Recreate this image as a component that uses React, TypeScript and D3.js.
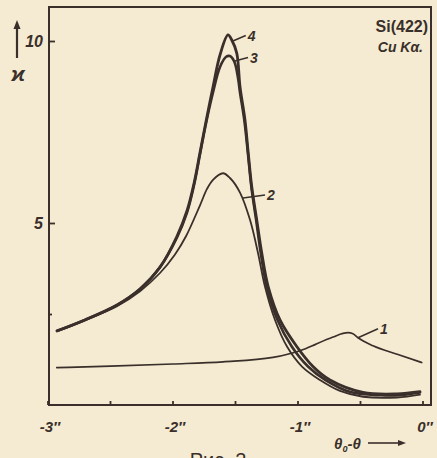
import * as d3 from 'd3';

// κ vs (θ0 - θ), arcsec — curves 1..4
const xTicks = [-3, -2.5, -2, -1.5, -1, -0.5, 0];
const xTickLabels = ['-3″', '', '-2″', '', '-1″', '', '0″'];
const yTicks = [2.5, 5, 10];
const yTickLabels = ['', '5', '10'];

const curve1X = [-2.93, -2.5, -2.0, -1.6, -1.2, -1.06, -0.94, -0.86, -0.72, -0.64, -0.6, -0.56, -0.52, -0.4, -0.2, -0.01];
const curve1Y = [1.04, 1.08, 1.14, 1.2, 1.32, 1.43, 1.56, 1.68, 1.88, 1.98, 2.0, 1.97, 1.86, 1.64, 1.4, 1.18];

const curve2X = [-2.928, -2.72, -2.448, -2.264, -2.104, -1.984, -1.896, -1.784, -1.728, -1.68, -1.6, -1.544, -1.464, -1.384, -1.32, -1.264, -1.184, -1.088, -0.968, -0.824, -0.664, -0.48, -0.208, -0.024];
const curve2Y = [2.04, 2.32, 2.73, 3.14, 3.64, 4.15, 4.65, 5.5, 5.95, 6.2, 6.38, 6.25, 5.85, 5.1, 4.19, 3.26, 2.35, 1.62, 1.07, 0.7, 0.4, 0.24, 0.22, 0.3];

const curve3X = [-2.928, -2.72, -2.448, -2.264, -2.104, -1.968, -1.888, -1.832, -1.784, -1.736, -1.68, -1.624, -1.575, -1.545, -1.51, -1.48, -1.464, -1.428, -1.4, -1.373, -1.335, -1.298, -1.25, -1.164, -1.05, -0.92, -0.78, -0.58, -0.34, -0.2, -0.024];
const curve3Y = [2.05, 2.33, 2.76, 3.2, 3.8, 4.62, 5.3, 6.05, 6.9, 7.75, 8.6, 9.3, 9.58, 9.6, 9.45, 9.0, 8.6, 7.8, 6.9, 6.0, 5.1, 4.19, 3.26, 2.35, 1.62, 1.07, 0.7, 0.37, 0.28, 0.28, 0.36];

const curve4X = [-2.928, -2.72, -2.448, -2.264, -2.104, -1.968, -1.888, -1.832, -1.784, -1.736, -1.68, -1.624, -1.56, -1.53, -1.49, -1.464, -1.424, -1.398, -1.37, -1.33, -1.29, -1.238, -1.144, -1.01, -0.88, -0.744, -0.48, -0.208, -0.024];
const curve4Y = [2.05, 2.33, 2.76, 3.2, 3.8, 4.65, 5.35, 6.1, 6.95, 7.8, 8.75, 9.63, 10.18, 10.04, 9.68, 8.76, 7.84, 6.94, 6.01, 5.1, 4.19, 3.26, 2.35, 1.62, 1.07, 0.7, 0.36, 0.32, 0.38];

const ink = '#3a2f2a';
const paper = '#f4ebd2';
const hand = '"Liberation Sans", Arial, sans-serif';

export default function App() {
  const width = 437;
  const height = 458;
  const left = 49;
  const right = 431;
  const top = 7;
  const bottom = 405;

  const x = d3.scaleLinear().domain([-3, 0]).range([48, 423]);
  const y = d3.scaleLinear().domain([0, 10]).range([405.5, 41.5]);

  const smooth = d3
    .line<[number, number]>()
    .x((d) => x(d[0]))
    .y((d) => y(d[1]))
    .curve(d3.curveCatmullRom.alpha(0.5));

  const kinked = d3
    .line<[number, number]>()
    .x((d) => x(d[0]))
    .y((d) => y(d[1]))
    .curve(d3.curveMonotoneX);

  const zip = (xs: number[], ys: number[]) => xs.map((v, i) => [v, ys[i]] as [number, number]);

  const paths = [
    kinked(zip(curve1X, curve1Y)),
    smooth(zip(curve2X, curve2Y)),
    smooth(zip(curve3X, curve3Y)),
    smooth(zip(curve4X, curve4Y)),
  ];
  const widths = [1.7, 1.8, 2.6, 2.8];

  // leader lines for the curve numbers (data coords at the curve, label offset in px)
  const labels = [
    { t: '1', at: [-0.52, 1.86], dx: 20, dy: -9 },
    { t: '2', at: [-1.44, 5.7], dx: 22, dy: -3 },
    { t: '3', at: [-1.52, 9.45], dx: 15, dy: -4 },
    { t: '4', at: [-1.53, 10.0], dx: 14, dy: -6 },
  ];

  return (
    <svg
      width={width}
      height={height}
      style={{ position: 'absolute', left: 0, top: 0, background: paper }}
    >
      <rect width={width} height={height} fill={paper} />

      {/* frame */}
      <path
        d={`M${left},${bottom} L${left},${top} L${right},${top} L${right},${bottom} Z`}
        fill="none"
        stroke={ink}
        strokeWidth={2}
      />

      {/* x ticks */}
      {xTicks.map((t, i) => (
        <g key={'xt' + i}>
          <line x1={x(t)} x2={x(t)} y1={bottom} y2={bottom - 4} stroke={ink} strokeWidth={1.8} />
          {xTickLabels[i] && (
            <text
              x={x(t) + 2}
              y={432}
              textAnchor="middle"
              fontFamily={hand}
              fontStyle="italic"
              fontWeight="bold"
              fontSize={15}
              fill={ink}
            >
              {xTickLabels[i]}
            </text>
          )}
        </g>
      ))}

      {/* y ticks */}
      {yTicks.map((t, i) => (
        <g key={'yt' + i}>
          <line x1={left} x2={left + (yTickLabels[i] ? 6 : 3)} y1={y(t)} y2={y(t)} stroke={ink} strokeWidth={1.8} />
          {yTickLabels[i] && (
            <text
              x={43}
              y={y(t) + 5}
              textAnchor="end"
              fontFamily={hand}
              fontStyle="italic"
              fontWeight="bold"
              fontSize={16}
              fill={ink}
            >
              {yTickLabels[i]}
            </text>
          )}
        </g>
      ))}

      {/* curves */}
      {paths.map((d, i) => (
        <path
          key={'c' + i}
          d={d ?? ''}
          fill="none"
          stroke={ink}
          strokeWidth={widths[i]}
          strokeLinecap="round"
          strokeLinejoin="round"
        />
      ))}

      {/* curve numbers */}
      {labels.map((l) => {
        const px = x(l.at[0]);
        const py = y(l.at[1]);
        return (
          <g key={'l' + l.t}>
            <line x1={px} y1={py} x2={px + l.dx} y2={py + l.dy} stroke={ink} strokeWidth={1.5} />
            <text
              x={px + l.dx + 2}
              y={py + l.dy + 5}
              fontFamily={hand}
              fontWeight="bold"
              fontStyle="italic"
              fontSize={14}
              fill={ink}
            >
              {l.t}
            </text>
          </g>
        );
      })}

      {/* sample label */}
      <text x={428} y={32} textAnchor="end" fontFamily={hand} fontWeight="bold" fontSize={16} fill={ink}>
        Si(422)
      </text>
      <text x={423} y={52} textAnchor="end" fontFamily={hand} fontWeight="bold" fontStyle="italic" fontSize={14} fill={ink}>
        Cu Kα.
      </text>

      {/* y axis label with arrow */}
      <line x1={17} x2={17} y1={25} y2={58} stroke={ink} strokeWidth={2.2} />
      <path d="M13.5,29 L17,20 L20.5,29 Z" fill={ink} />
      <text x={18} y={81} textAnchor="middle" fontFamily={hand} fontWeight="bold" fontStyle="italic" fontSize={20} fill={ink}>
        ϰ
      </text>

      {/* x axis label with arrow */}
      <text x={334} y={449} fontFamily={hand} fontWeight="bold" fontStyle="italic" fontSize={15} fill={ink}>
        θ
        <tspan fontSize={9} dy={3}>0</tspan>
        <tspan dy={-3}>-θ</tspan>
      </text>
      <line x1={368} x2={400} y1={443} y2={443} stroke={ink} strokeWidth={1.6} />
      <path d="M398,440 L406,443 L398,446 Z" fill={ink} />

      {/* caption, cut by the page edge as in the scan */}
      <text x={218} y={467} textAnchor="middle" fontFamily={hand} fontSize={20} fill={ink}>
        Рис. 2
      </text>
    </svg>
  );
}
